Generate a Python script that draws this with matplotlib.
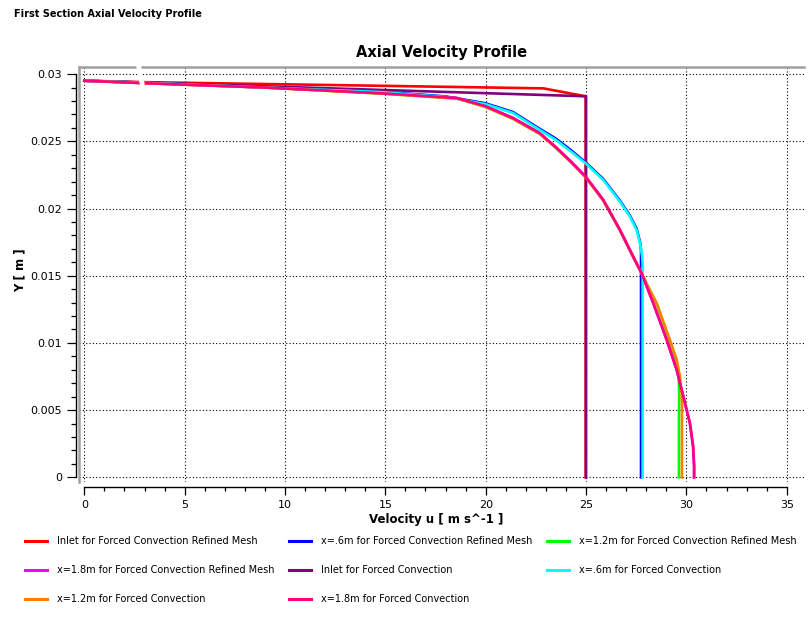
import matplotlib
matplotlib.use('Agg')
import matplotlib.pyplot as plt
from matplotlib.ticker import MultipleLocator

# ---- data ----
x_ticks = [0, 5, 10, 15, 20, 25, 30, 35]
x_tick_labels = ['0', '5', '10', '15', '20', '25', '30', '35']
y_ticks = [0, 0.005, 0.01, 0.015, 0.02, 0.025, 0.03]
y_tick_labels = ['0', '0.005', '0.01', '0.015', '0.02', '0.025', '0.03']

labels = [
    'Inlet for Forced Convection Refined Mesh',
    'x=.6m for Forced Convection Refined Mesh',
    'x=1.2m for Forced Convection Refined Mesh',
    'x=1.8m for Forced Convection Refined Mesh',
    'Inlet for Forced Convection',
    'x=.6m for Forced Convection',
    'x=1.2m for Forced Convection',
    'x=1.8m for Forced Convection',
]
colors = ['#ff0000', '#0000ff', '#00ff00', '#ff00ff',
          '#800080', '#00ffff', '#ff8000', '#ff0080']

# inlet, refined mesh
u_inlet_ref = [0, 3.1, 15.7, 22.87, 24.98, 24.98]
y_inlet_ref = [0.02951, 0.02940, 0.02911, 0.02894, 0.02835, 0.0]

# x=.6m, refined mesh
u_06_ref = [0, 3.1, 9.0, 14.73, 18.0, 19.96, 21.36, 22.7, 23.5, 24.2,
            24.98, 25.86, 26.69, 27.19, 27.52, 27.69, 27.74, 27.74]
y_06_ref = [0.02951, 0.02936, 0.02902, 0.02870, 0.02834, 0.02784, 0.02718,
            0.02592, 0.0252, 0.0244, 0.02343, 0.02219, 0.02058, 0.01946,
            0.0185, 0.0175, 0.0169, 0.0]

# x=1.2m, refined mesh
u_12_ref = [0, 3.1, 9.0, 14.73, 18.57, 19.96, 21.36, 22.7, 23.5, 24.2,
            24.98, 25.86, 26.69, 27.35, 27.77, 28.12, 28.52, 29.18, 29.5,
            29.62, 29.64, 29.63, 29.63]
y_12_ref = [0.02951, 0.02932, 0.0290, 0.02856, 0.02818, 0.02758, 0.02668,
            0.02555, 0.02452, 0.02352, 0.02233, 0.0206, 0.01838, 0.0164,
            0.01518, 0.0141, 0.01292, 0.0101, 0.0087, 0.0075, 0.0060,
            0.0045, 0.0]

# x=1.8m, refined mesh
u_18_ref = [0, 3.1, 9.0, 14.73, 18.57, 19.96, 21.36, 22.7, 23.5, 24.2,
            24.98, 25.86, 26.69, 27.35, 27.77, 28.35, 29.02, 29.52, 29.85,
            30.17, 30.33, 30.38, 30.38]
y_18_ref = [0.02951, 0.02933, 0.02901, 0.02859, 0.02823, 0.02764, 0.02674,
            0.02561, 0.02456, 0.02357, 0.02238, 0.02064, 0.01841, 0.01642,
            0.01518, 0.01295, 0.01022, 0.00798, 0.0060, 0.00402, 0.00228,
            0.0008, 0.0]

# inlet
u_inlet = [0, 25.0, 25.0]
y_inlet = [0.02951, 0.02835, 0.0]

# x=.6m
u_06 = [0, 3.1, 9.0, 14.73, 18.0, 19.96, 21.36, 22.7, 23.5, 24.2, 24.98,
        25.86, 26.69, 27.19, 27.52, 27.69, 27.79, 27.82, 27.82]
y_06 = [0.02951, 0.02935, 0.0290, 0.02867, 0.02830, 0.02778, 0.02711,
        0.02584, 0.0251, 0.0243, 0.02336, 0.02212, 0.02051, 0.01939,
        0.0184, 0.01741, 0.0165, 0.0159, 0.0]

# x=1.2m
u_12 = [0, 3.1, 9.0, 14.73, 18.57, 19.96, 21.36, 22.7, 23.5, 24.2, 24.98,
        25.86, 26.69, 27.35, 27.77, 28.12, 28.52, 29.18, 29.52, 29.68,
        29.76, 29.78, 29.78]
y_12 = [0.02951, 0.02932, 0.0290, 0.02856, 0.02818, 0.02758, 0.02668,
        0.02555, 0.02452, 0.02352, 0.02233, 0.0206, 0.01838, 0.0164,
        0.01518, 0.0141, 0.01295, 0.01022, 0.00873, 0.00749, 0.0062,
        0.0055, 0.0]

# x=1.8m
u_18 = [0, 3.1, 9.0, 14.73, 18.57, 19.96, 21.36, 22.7, 23.5, 24.2, 24.98,
        25.86, 26.69, 27.35, 27.77, 28.35, 29.02, 29.52, 29.85, 30.18,
        30.34, 30.39, 30.39]
y_18 = [0.02951, 0.02932, 0.0290, 0.02858, 0.02822, 0.02763, 0.02673,
        0.0256, 0.02455, 0.02356, 0.02237, 0.02063, 0.0184, 0.01641,
        0.01518, 0.01295, 0.01022, 0.00798, 0.0060, 0.00402, 0.00228,
        0.0008, 0.0]

us = [u_inlet_ref, u_06_ref, u_12_ref, u_18_ref, u_inlet, u_06, u_12, u_18]
ys = [y_inlet_ref, y_06_ref, y_12_ref, y_18_ref, y_inlet, y_06, y_12, y_18]

# ---- figure ----
W, H = 812, 620
fig = plt.figure(figsize=(W / 100, H / 100), dpi=100)
ax = fig.add_axes([79 / W, 1 - 482 / H, (804 - 79) / W, (482 - 67) / H])

for u, y, c, lab in zip(us, ys, colors, labels):
    ax.plot(u, y, color=c, lw=1.9, label=lab, solid_joinstyle='round')

ax.set_xlim(-0.264, 35.86)
ax.set_ylim(-0.00035, 0.03053)

ax.set_xticks(x_ticks, x_tick_labels)
ax.set_yticks(y_ticks, y_tick_labels)
ax.xaxis.set_minor_locator(MultipleLocator(1))
ax.yaxis.set_minor_locator(MultipleLocator(0.001))

ax.grid(True, which='major', color='black', linestyle=(0, (1, 2)), linewidth=0.8)

for s in ['top', 'right']:
    ax.spines[s].set_visible(False)
ax.spines['left'].set_position(('outward', 2.2))
ax.spines['left'].set_bounds(0, 0.03)
ax.spines['bottom'].set_position(('outward', 3.6))
ax.spines['bottom'].set_bounds(0, 35)
for s in ['left', 'bottom']:
    ax.spines[s].set_linewidth(1.0)

ax.tick_params(axis='both', which='major', direction='out', width=0.9,
               labelsize=8, pad=3.6)
ax.tick_params(axis='y', which='major', length=6.5)
ax.tick_params(axis='y', which='minor', length=3.6, width=0.9)
ax.tick_params(axis='x', which='major', length=5.8)
ax.tick_params(axis='x', which='minor', length=3.1, width=0.9)

# grey frame on top and left
ax.plot([0, 1], [1, 1], transform=ax.transAxes, color='#a0a0a0', lw=1.8,
        clip_on=False, zorder=5)
ax.plot([0, 0], [0, 1], transform=ax.transAxes, color='#a0a0a0', lw=1.8,
        clip_on=False, zorder=5)
# small white gap that cuts the frame and lines near the top
ax.plot([2.68, 2.92], [0.0308, 0.0290], color='white', lw=3.5,
        clip_on=False, zorder=6, solid_capstyle='butt')

fig.text(14 / W, 1 - 14 / H, 'First Section Axial Velocity Profile',
         fontsize=7, weight='bold', ha='left', va='center')
fig.text(442 / W, 1 - 52 / H, 'Axial Velocity Profile',
         fontsize=10.5, weight='bold', ha='center', va='center')
fig.text(436 / W, 1 - 520 / H, 'Velocity u [ m s^-1 ]',
         fontsize=8.5, weight='bold', ha='center', va='center')
fig.text(20 / W, 1 - 270 / H, 'Y [ m ]', rotation=90,
         fontsize=8.5, weight='bold', ha='center', va='center')

# legend in three columns, filled row by row
handles, labs = ax.get_legend_handles_labels()
cols = [[0, 3, 6], [1, 4, 7], [2, 5]]
col_x = [25, 289, 547]
for idx, cx in zip(cols, col_x):
    leg = fig.legend([handles[i] for i in idx], [labs[i] for i in idx],
                     loc='upper left', bbox_to_anchor=(cx / W, 1 - 536 / H),
                     bbox_transform=fig.transFigure, frameon=False,
                     fontsize=7, borderpad=0, borderaxespad=0,
                     handlelength=2.26, handletextpad=1.03, labelspacing=1.96)
    for ln in leg.get_lines():
        ln.set_linewidth(2.2)

fig.savefig('out.png', dpi=100)
